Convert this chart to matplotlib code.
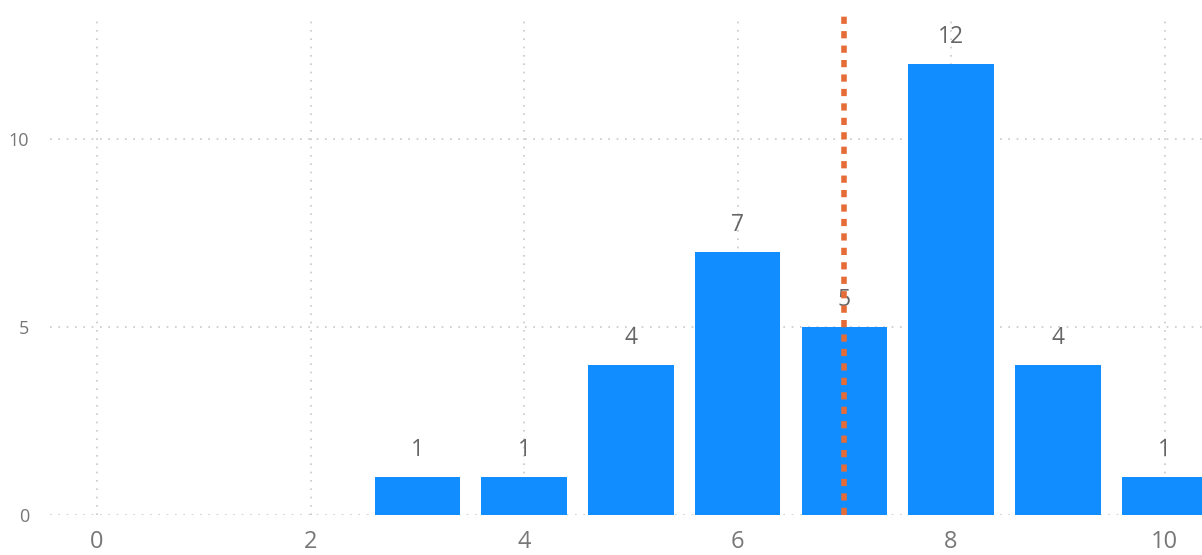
import matplotlib.pyplot as plt

plt.rcParams['font.family'] = ['Open Sans', 'DejaVu Sans']

# data
bins = [3, 4, 5, 6, 7, 8, 9, 10]
counts = [1, 1, 4, 7, 5, 12, 4, 1]
ref_line = 7
x_ticks = [0, 2, 4, 6, 8, 10]
y_ticks = [0, 5, 10]

fig = plt.figure(figsize=(12.02, 5.55), dpi=100)
ax = fig.add_axes([50 / 1202, 40 / 555, 1 - 50 / 1202, 500 / 555])

ax.bar(bins, counts, width=0.8, color='#118DFF', zorder=3)
for x, c in zip(bins, counts):
    ax.text(x, c + 0.4, str(c), ha='center', va='bottom', fontsize=16.5,
            color='#666666', zorder=4)

ax.axvline(ref_line, color='#E66C37', linestyle=(0, (1.3, 1.3)), linewidth=4,
           zorder=5)

ax.set_xlim(-0.44, 10.35)
ax.set_ylim(0, 13.3)
ax.set_xticks(x_ticks)
ax.set_yticks(y_ticks)
ax.tick_params(axis='x', length=0, labelsize=17, labelcolor='#777777', pad=11)
ax.tick_params(axis='y', length=0, labelsize=13, labelcolor='#777777', pad=15)
ax.grid(True, linestyle=(0, (1, 4)), color='#c8c8c8', linewidth=1.2, zorder=0)
for s in ax.spines.values():
    s.set_visible(False)

fig.savefig('out.png', dpi=100)
